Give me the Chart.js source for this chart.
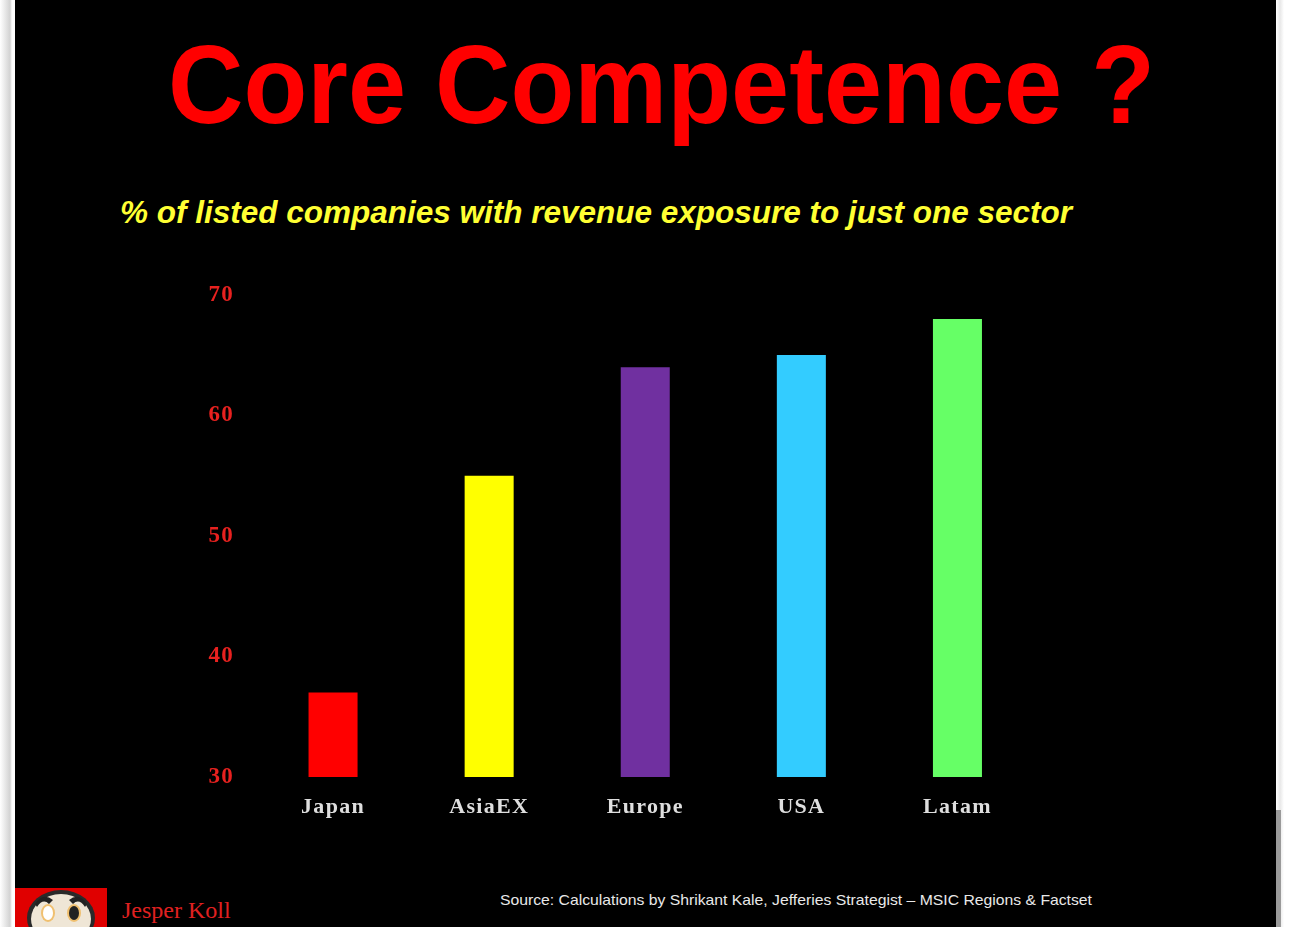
<!DOCTYPE html>
<html>
<head>
<meta charset="utf-8">
<script src="https://cdn.jsdelivr.net/npm/chart.js@4"></script>
<style>
  html, body { margin: 0; padding: 0; }
  body {
    width: 1290px; height: 927px; overflow: hidden; position: relative;
    background: linear-gradient(to right, #fff 0px, #e4e4e4 6px, #d2d2d2 10px, #fff 12px, #fff 1276px, #e8e8e8 1280px, #fff 1284px);
  }
  #slide { position: absolute; left: 15px; top: 0; width: 1261px; height: 927px; background: #000; }
  #scroll { position: absolute; left: 1276px; top: 810px; width: 5px; height: 117px; background: #9a9a9a; }
  .txt { position: absolute; white-space: nowrap; transform-origin: 0 0; }
  #title { left: 168px; top: 29px; color: #ff0000; font: bold 112px "Liberation Sans", Arial, sans-serif; line-height: 1; }
  #subtitle { left: 120px; top: 196px; color: #ffff33; font: italic bold 32px "Liberation Sans", Arial, sans-serif; line-height: 1; }
  #source { left: 500px; top: 892px; color: #e8e8e8; font: 15px "Liberation Sans", Arial, sans-serif; line-height: 1; }
  #author { left: 122px; top: 898px; color: #e02020; font: 24px "Liberation Serif", "Times New Roman", serif; line-height: 1; }
  #logo { position: absolute; left: 15px; top: 888px; }
  #wrap { position: absolute; left: 15px; top: 260px; width: 1260px; height: 580px; }
</style>
</head>
<body>
<div id="slide"></div>
<div id="scroll"></div>
<div id="title" class="txt" data-w="987">Core Competence ?</div>
<div id="subtitle" class="txt" data-w="952">% of listed companies with revenue exposure to just one sector</div>
<div id="wrap"><canvas id="chart"></canvas></div>
<svg id="logo" width="92" height="39" viewBox="0 0 92 39">
  <rect x="0" y="0" width="92" height="39" fill="#e00000"/>
  <ellipse cx="46" cy="30" rx="34" ry="28" fill="#2a2a2a"/>
  <ellipse cx="46" cy="31" rx="30" ry="25" fill="#efe6d6"/>
  <path d="M20 16 Q28 4 38 12 L34 16 Q28 10 22 19 Z" fill="#222"/>
  <path d="M72 16 Q64 4 54 12 L58 16 Q64 10 70 19 Z" fill="#222"/>
  <ellipse cx="33" cy="25" rx="7" ry="9" fill="#f0c070"/>
  <ellipse cx="33" cy="25" rx="5" ry="7" fill="#fff"/>
  <ellipse cx="59" cy="25" rx="7" ry="9" fill="#f0c070"/>
  <ellipse cx="59" cy="25" rx="5" ry="7" fill="#222"/>
</svg>
<div id="author" class="txt">Jesper Koll</div>
<div id="source" class="txt" data-w="592">Source: Calculations by Shrikant Kale, Jefferies Strategist – MSIC Regions &amp; Factset</div>
<script>
const regions = ['Japan', 'AsiaEX', 'Europe', 'USA', 'Latam'];
const sharePct = [37, 55, 64, 65, 68];
const barColors = ['#ff0000', '#ffff00', '#7030a0', '#33ccff', '#66ff66'];
const yTicks = [30, 40, 50, 60, 70];

// squeeze slide texts to the measured widths of the original
document.querySelectorAll('.txt[data-w]').forEach(el => {
  const target = +el.dataset.w;
  const w = el.getBoundingClientRect().width;
  if (w > 0) el.style.transform = `scaleX(${target / w})`;
});

// the slide labels are set with a little tracking
const spacing = {
  id: 'spacing',
  beforeDraw: chart => { chart.ctx.letterSpacing = '1.3px'; }
};

new Chart(document.getElementById('chart'), {
  type: 'bar',
  data: {
    labels: regions,
    datasets: [{
      data: sharePct,
      backgroundColor: barColors,
      borderWidth: 0,
      barPercentage: 0.314,
      categoryPercentage: 1
    }]
  },
  options: {
    responsive: true,
    maintainAspectRatio: false,
    animation: false,
    layout: { padding: { top: 0, right: 239.5, left: 0, bottom: 0 } },
    plugins: { legend: { display: false }, tooltip: { enabled: false } },
    scales: {
      x: {
        grid: { display: false, drawTicks: false },
        border: { display: false },
        ticks: {
          color: '#dedede',
          padding: 17,
          font: { family: '"Liberation Serif", "Times New Roman", serif', size: 22, weight: 'bold' }
        },
        afterFit: s => { s.height = 63; }
      },
      y: {
        min: yTicks[0],
        max: yTicks[yTicks.length - 1],
        afterBuildTicks: s => { s.ticks = yTicks.map(v => ({ value: v })); },
        grid: { display: false, drawTicks: false },
        border: { display: false },
        ticks: {
          color: '#e8211f',
          padding: 21,
          font: { family: '"Liberation Serif", "Times New Roman", serif', size: 23, weight: 'bold' }
        },
        afterFit: s => { s.width = 240; }
      }
    }
  },
  plugins: [spacing]
});
</script>
</body>
</html>
